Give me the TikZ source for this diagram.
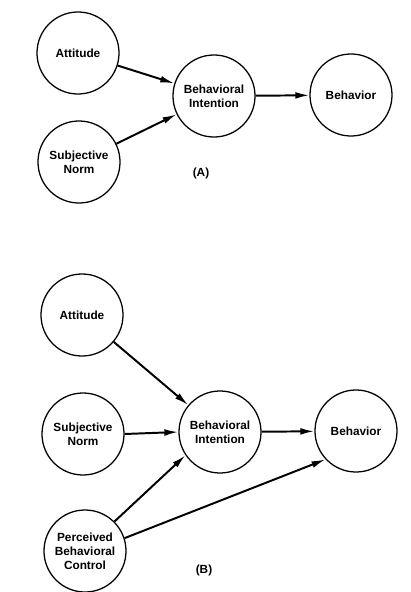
\documentclass[tikz,border=0pt]{standalone}
\usepackage{fontspec}
\setmainfont{Liberation Sans}
\usetikzlibrary{arrows.meta}

\begin{document}
\begin{tikzpicture}[x=0.025cm, y=-0.025cm]
\tikzset{rond/.style={draw, circle, line width=0.9pt, minimum size=2.05cm, inner sep=0pt, align=center, font=\fontsize{8.4}{9.8}\selectfont\bfseries}}
\tikzset{fleche/.style={line width=1.4pt, -{Latex[length=3.5mm, width=1.7mm]}}}
\useasboundingbox (0,0) rectangle (410,592);
% (A)
\node[rond] (A1) at (78,53) {Attitude};
\node[rond] (A2) at (79,162) {Subjective\\Norm};
\node[rond] (A3) at (214,96) {Behavioral\\Intention};
\node[rond] (A4) at (351,95) {Behavior};
\node[font=\fontsize{8.4}{9.8}\selectfont\bfseries] (LA) at (201,173) {(A)};
\draw[fleche] (A1) -- (A3);
\draw[fleche] (A2) -- (A3);
\draw[fleche] (A3) -- (A4);
% (B)
\node[rond] (B1) at (82,315) {Attitude};
\node[rond] (B2) at (83,434) {Subjective\\Norm};
\node[rond] (B3) at (220,432) {Behavioral\\Intention};
\node[rond] (B4) at (356,431) {Behavior};
\node[rond] (B5) at (85,551) {Perceived\\Behavioral\\Control};
\node[font=\fontsize{8.4}{9.8}\selectfont\bfseries] (LB) at (204,570) {(B)};
\draw[fleche] (B1) -- (B3);
\draw[fleche] (B2.east) -- (B3.west);
\draw[fleche] (B3) -- (B4);
\draw[fleche] (B5.45) -- (B3.214);
\draw[fleche] (B5.18) -- (B4.223);
\end{tikzpicture}
\end{document}
